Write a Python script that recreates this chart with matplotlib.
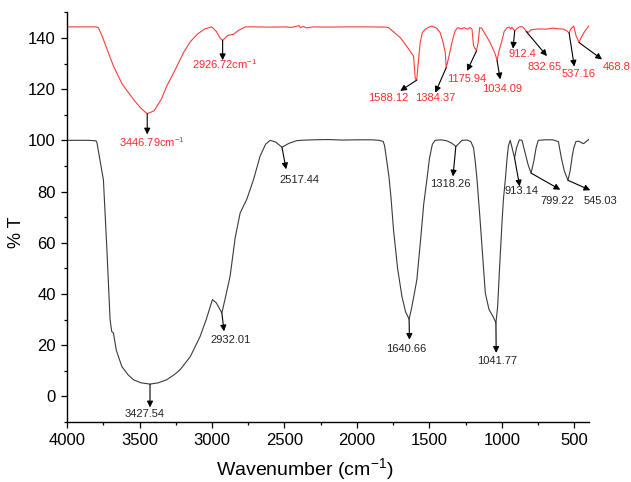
import matplotlib
matplotlib.use('Agg')
import matplotlib.pyplot as plt
from matplotlib.ticker import MultipleLocator

plt.rcParams['font.family'] = ['Liberation Sans', 'DejaVu Sans']
plt.rcParams['mathtext.fontset'] = 'custom'
plt.rcParams['mathtext.rm'] = 'Liberation Sans'
plt.rcParams['mathtext.it'] = 'Liberation Sans:italic'

# Datos: espectro inferior (negro)
wn_black = [4000, 3850, 3800, 3793, 3775, 3749, 3726, 3703, 3692, 3685, 3680, 3660,
            3622, 3580, 3542, 3490, 3427.54, 3370, 3312, 3260, 3220, 3150, 3082, 3040,
            2997, 2970, 2932.01, 2910, 2875, 2840, 2806, 2760, 2714, 2668, 2630, 2599,
            2560, 2517.44, 2470, 2420, 2392, 2300, 2200, 2100, 2000, 1900, 1850, 1820,
            1810, 1795, 1780, 1766, 1748, 1720, 1690, 1665, 1640.66, 1625, 1605, 1587,
            1560, 1540, 1518, 1500, 1480, 1460, 1420, 1380, 1350, 1335, 1318.26, 1300,
            1276, 1240, 1215, 1196, 1185, 1172, 1155, 1138, 1115, 1090, 1060, 1041.77,
            1030, 1015, 1000, 990, 977, 965, 955, 943, 930, 913.14, 900, 880, 862, 840,
            820, 799.22, 780, 765, 750, 700, 650, 611, 590, 570, 545.03, 530, 515, 505,
            490, 471, 450, 437, 420, 402]
t_black = [100, 100, 99.8, 99, 93, 84.6, 58.6, 30, 25.4, 25, 24.8, 18,
           11.7, 8.5, 6.5, 5.3, 4.8, 5.3, 6.5, 8.5, 10.4, 15.5, 23.4, 30,
           37.8, 36.5, 32.6, 38, 47, 62, 71.6, 77, 84.6, 93.9, 98.5, 100,
           99.3, 97.3, 98.8, 99.8, 100, 100.2, 100.3, 100.1, 100.2, 100.2, 100, 99.6,
           98, 92, 86, 78, 65, 50, 39, 33, 30.2, 34, 40, 45.6,
           62, 75, 84.6, 93, 98.5, 100, 100.2, 99.8, 99, 98.4, 97.6, 98.6,
           100, 100.1, 99.5, 97, 92, 84.6, 72, 58.6, 40.4, 34, 31, 28.7,
           35, 52, 67.8, 77, 84.6, 93, 98, 100, 97, 93.1, 97, 100.2, 100, 95,
           90.5, 87.2, 92, 97, 100, 100.2, 100.2, 99.5, 93, 88, 84.4, 88, 94, 97,
           99.5, 99.7, 99, 98.7, 99.5, 100.3]

# Datos: espectro superior (rojo)
wn_red = [4000, 3800, 3784, 3760, 3720, 3680, 3620, 3542, 3490, 3446.79, 3400, 3350,
          3312, 3250, 3197, 3150, 3100, 3050, 3002, 2970, 2945, 2926.72, 2910, 2890,
          2852, 2820, 2772, 2700, 2600, 2500, 2450, 2420, 2400, 2390, 2370, 2350, 2300,
          2200, 2100, 2000, 1900, 1800, 1782, 1740, 1700, 1660, 1630, 1610, 1598,
          1588.12, 1578, 1564, 1550, 1529, 1500, 1483, 1450, 1426, 1405, 1391, 1384.37,
          1365, 1345, 1325, 1306, 1280, 1260, 1240, 1220, 1207, 1196, 1175.94, 1165,
          1154, 1140, 1115, 1080, 1046, 1034.09, 1020, 1000, 985, 965, 950, 940, 932,
          912.4, 900, 880, 862, 845, 832.65, 815, 800, 780, 750, 700, 650, 600, 575,
          555, 537.16, 525, 505, 490, 468.8, 455, 430, 402]
t_red = [144.3, 144.3, 144, 141, 135, 129, 122, 116, 112.5, 110.4, 111.5, 116,
         121.2, 128, 134.2, 138.5, 141.5, 143.5, 144.3, 142.5, 140, 139, 140, 141,
         141.4, 142.8, 144.3, 144.3, 144.2, 144.3, 144.1, 144.5, 144.8, 144.0, 144.5, 143.9, 144.3,
         144.2, 144.3, 144.3, 144.3, 144.2, 144, 142, 140, 137, 134.5, 132.9, 124,
         123.5, 130, 138.2, 142, 143.4, 144.3, 144.6, 143.8, 142, 138, 134.2, 128.4,
         133, 138.2, 142.5, 144, 143.5, 144, 143.4, 144, 143.5, 136.9, 134.9, 138,
         144, 143.8, 141.4, 138, 133.6, 131.2, 135, 139, 142.5, 144, 144.2, 143.4, 144.2,
         142.7, 143.5, 144.3, 144.4, 143.6, 142.5, 142.2, 143.2, 143.3, 143.5, 143.4, 143.8, 143.5, 143.4,
         142.8, 142, 143.5, 144.6, 141, 138.2, 140, 142.5, 144.6]

# Etiquetas de picos: (pico x, pico y, punta x, punta y, texto x, texto y, texto)
red_labels = [
    (3446.79, 110.4, 3446.79, 102.3, 3416, 99.2, '3446.79cm$^{-1}$'),
    (2926.72, 139.0, 2926.72, 131.3, 2914, 129.6, '2926.72cm$^{-1}$'),
    (1588.12, 123.5, 1702, 119.3, 1782, 116.7, '1588.12'),
    (1384.37, 128.4, 1460, 118.6, 1460, 116.7, '1384.37'),
    (1175.94, 134.9, 1241, 127.1, 1241, 123.8, '1175.94'),
    (1034.09, 131.2, 1012, 123.8, 1000, 120.2, '1034.09'),
    (912.4, 142.7, 924, 135.8, 862, 133.9, '912.4'),
    (832.65, 142.5, 690, 132.9, 706, 128.8, '832.65'),
    (537.16, 142.0, 501, 128.8, 471, 125.8, '537.16'),
    (468.8, 138.2, 310, 131.6, 211, 128.8, '468.8'),
]
black_labels = [
    (3427.54, 4.8, 3427.54, -4.3, 3462, -6.9, '3427.54'),
    (2932.01, 32.6, 2917, 25.4, 2875, 22.1, '2932.01'),
    (2517.44, 97.3, 2489, 88.7, 2399, 84.4, '2517.44'),
    (1640.66, 30.2, 1638, 22.1, 1663, 18.5, '1640.66'),
    (1318.26, 97.6, 1338, 85.9, 1357, 83.0, '1318.26'),
    (1041.77, 28.7, 1040, 17.0, 1031, 13.7, '1041.77'),
    (913.14, 93.1, 878, 82.0, 862, 80.1, '913.14'),
    (799.22, 87.2, 598, 80.7, 620, 76.2, '799.22'),
    (545.03, 84.4, 391, 80.5, 322, 76.2, '545.03'),
]

fig = plt.figure(figsize=(6.31, 4.82), dpi=100)
ax = fig.add_axes([0.1062, 0.1245, 0.8272, 0.85])

ax.plot(wn_red, t_red, color='#ff3b3b', linewidth=0.8)
ax.plot(wn_black, t_black, color='#3a3a3a', linewidth=0.8)

arrow = dict(arrowstyle='-|>', color='black', lw=0.8, shrinkA=0, shrinkB=0,
             mutation_scale=9)
for labels, tcolor in [(red_labels, '#ff2a2a'), (black_labels, '#222222')]:
    for px, py, ax_, ay, tx, ty, txt in labels:
        ax.annotate('', xy=(ax_, ay), xytext=(px, py), arrowprops=arrow,
                    annotation_clip=False)
        ax.text(tx, ty, txt, color=tcolor, fontsize=8, ha='center', va='center',
                clip_on=False)

ax.set_xlim(4000, 400)
ax.set_ylim(-10, 150)
ax.xaxis.set_major_locator(MultipleLocator(500))
ax.xaxis.set_minor_locator(MultipleLocator(250))
ax.yaxis.set_major_locator(MultipleLocator(20))
ax.yaxis.set_minor_locator(MultipleLocator(10))
ax.spines['top'].set_visible(False)
ax.spines['right'].set_visible(False)
for s in ['left', 'bottom']:
    ax.spines[s].set_linewidth(1.0)
ax.tick_params(which='major', length=4.5, width=0.9, labelsize=12, direction='out')
ax.tick_params(which='minor', length=2.5, width=0.9, direction='out')

ax.set_xlabel('Wavenumber (cm$^{-1}$)', fontsize=14)
ax.set_ylabel('% T', fontsize=13)
ax.xaxis.set_label_coords(0.456, -0.083)
ax.yaxis.set_label_coords(-0.080, 0.464)

fig.savefig('out.png', dpi=100)
